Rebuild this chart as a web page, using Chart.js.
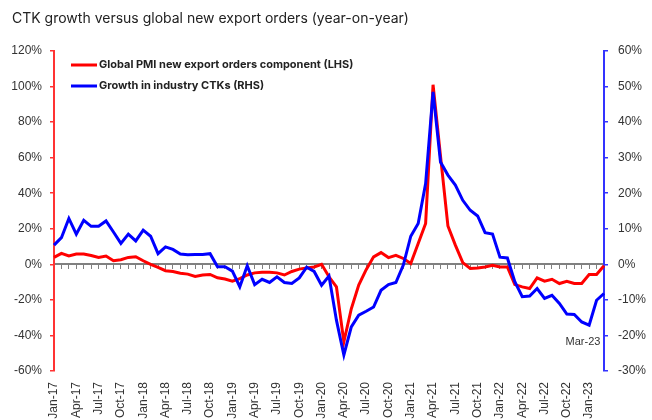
<!DOCTYPE html>
<html>
<head>
<meta charset="utf-8">
<script src="https://cdn.jsdelivr.net/npm/chart.js@4"></script>
<style>
  body { margin: 0; background: #fff; }
  #wrap { position: relative; width: 652px; height: 420px; }
  #title { position: absolute; left: 12px; top: 9px; font: 14px Inter, sans-serif; color: #222; }
</style>
</head>
<body>
<div id="wrap">
  <div id="title">CTK growth versus global new export orders (year-on-year)</div>
  <canvas id="chart" width="652" height="420"></canvas>
</div>
<script>
var months = [
  "Jan-17","Feb-17","Mar-17","Apr-17","May-17","Jun-17","Jul-17","Aug-17","Sep-17","Oct-17","Nov-17","Dec-17",
  "Jan-18","Feb-18","Mar-18","Apr-18","May-18","Jun-18","Jul-18","Aug-18","Sep-18","Oct-18","Nov-18","Dec-18",
  "Jan-19","Feb-19","Mar-19","Apr-19","May-19","Jun-19","Jul-19","Aug-19","Sep-19","Oct-19","Nov-19","Dec-19",
  "Jan-20","Feb-20","Mar-20","Apr-20","May-20","Jun-20","Jul-20","Aug-20","Sep-20","Oct-20","Nov-20","Dec-20",
  "Jan-21","Feb-21","Mar-21","Apr-21","May-21","Jun-21","Jul-21","Aug-21","Sep-21","Oct-21","Nov-21","Dec-21",
  "Jan-22","Feb-22","Mar-22","Apr-22","May-22","Jun-22","Jul-22","Aug-22","Sep-22","Oct-22","Nov-22","Dec-22",
  "Jan-23","Feb-23","Mar-23"
];

// Global PMI new export orders component, % yoy (left axis)
var pmiOrders = [
  3.9, 6.2, 4.7, 5.8, 5.8, 5.0, 3.9, 4.7, 2.0, 2.6, 3.9, 4.3,
  2.0, 0.0, -1.7, -3.6, -4.0, -5.0, -5.5, -6.8, -6.0, -5.7, -7.6, -8.3,
  -9.5, -8.0, -6.0, -4.8, -4.4, -4.4, -4.8, -6.0, -4.0, -2.7, -2.0, -1.5,
  0.0, -7.0, -12.7, -43.6, -25.0, -11.7, -3.0, 4.2, 6.6, 3.8, 5.1, 3.3,
  0.5, 11.7, 23.0, 101.0, 61.0, 21.6, 10.8, 1.0, -2.3, -2.0, -1.5, -0.5,
  -1.5, -1.5, -11.4, -12.7, -13.6, -7.6, -9.5, -8.4, -10.8, -9.5, -10.8, -10.8,
  -5.7, -5.7, -0.8
];

// Growth in industry CTKs, % yoy (right axis)
var ctkGrowth = [
  5.4, 7.5, 12.9, 8.5, 12.4, 10.7, 10.7, 12.2, 9.1, 5.9, 8.5, 6.6,
  9.6, 7.9, 3.0, 4.9, 4.2, 2.9, 2.7, 2.8, 2.8, 3.0, -0.7, -0.7,
  -1.9, -6.3, -0.4, -5.7, -4.2, -5.1, -3.5, -5.1, -5.4, -3.8, -0.8, -2.0,
  -5.9, -3.3, -15.7, -25.5, -17.6, -14.3, -13.2, -12.0, -7.3, -5.7, -5.1, -0.2,
  7.9, 11.5, 22.7, 48.5, 28.8, 25.1, 22.3, 18.0, 15.2, 13.6, 8.9, 8.5,
  2.0, 1.8, -4.9, -9.1, -8.9, -6.8, -9.6, -8.7, -11.0, -14.0, -14.1, -16.2,
  -17.1, -10.1, -8.2
];

var leftTicks = { min: -60, max: 120, step: 20 };
var rightTicks = { min: -30, max: 60, step: 10 };

var tickFont = { family: "Liberation Sans, Arial, sans-serif", size: 12 };

// legend drawn inside the plot, stacked
var innerLegend = {
  id: "innerLegend",
  afterDraw: function(chart) {
    var ctx = chart.ctx;
    var left = chart.chartArea.left + 17;
    var rows = [
      { ds: chart.data.datasets[0], y: 65 },
      { ds: chart.data.datasets[1], y: 86 }
    ];
    ctx.save();
    ctx.font = "bold 11px Inter, sans-serif";
    ctx.textBaseline = "middle";
    rows.forEach(function(r) {
      ctx.strokeStyle = r.ds.borderColor;
      ctx.lineWidth = 3;
      ctx.beginPath();
      ctx.moveTo(left, r.y);
      ctx.lineTo(left + 26, r.y);
      ctx.stroke();
      ctx.fillStyle = "#222";
      ctx.fillText(r.ds.label, left + 28, r.y);
    });
    ctx.restore();
  }
};

// "Mar-23" note under the last CTK point
var lastNote = {
  id: "lastNote",
  afterDatasetsDraw: function(chart) {
    var n = months.length - 1;
    var x = chart.scales.x.getPixelForValue(n) - 21;
    var y = chart.scales.y1.getPixelForValue(ctkGrowth[n]) + 48;
    var ctx = chart.ctx;
    ctx.save();
    ctx.font = "11px Liberation Sans, Arial, sans-serif";
    ctx.fillStyle = "#333";
    ctx.textAlign = "center";
    ctx.textBaseline = "middle";
    ctx.fillText(months[n], x, y);
    ctx.restore();
  }
};

var chart = new Chart(document.getElementById("chart"), {
  type: "line",
  data: {
    labels: months,
    datasets: [{
      label: "Global PMI new export orders component (LHS)",
      data: pmiOrders,
      borderColor: "#ff0000",
      backgroundColor: "#ff0000",
      borderWidth: 3,
      pointRadius: 0,
      tension: 0,
      yAxisID: "y",
      order: 1
    }, {
      label: "Growth in industry CTKs (RHS)",
      data: ctkGrowth,
      borderColor: "#0000ff",
      backgroundColor: "#0000ff",
      borderWidth: 3,
      pointRadius: 0,
      tension: 0,
      yAxisID: "y1",
      order: 0
    }]
  },
  options: {
    responsive: false,
    animation: false,
    layout: { padding: { top: 51, left: 0, right: 0, bottom: 0 } },
    plugins: {
      legend: { display: false },
      tooltip: { enabled: false }
    },
    scales: {
      x: {
        type: "category",
        position: "bottom",
        offset: false,
        border: { display: false },
        grid: { display: false },
        ticks: {
          autoSkip: false,
          minRotation: 90,
          maxRotation: 90,
          padding: 3,
          color: "#333",
          font: tickFont,
          callback: function(v, i) { return i % 3 === 0 ? months[i] : null; }
        },
        afterFit: function(s) { s.height = 49; }
      },
      x2: {
        type: "category",
        position: { y: 0 },
        offset: false,
        border: { display: true, color: "#808080", width: 2 },
        grid: { display: true, drawOnChartArea: false, offset: false, color: "#808080", tickLength: 4, lineWidth: 1 },
        ticks: { display: false, autoSkip: false }
      },
      y: {
        position: "left",
        min: leftTicks.min,
        max: leftTicks.max,
        border: { color: "#ff3333", width: 2 },
        grid: { drawOnChartArea: false, color: "#ff3333", tickLength: 4, lineWidth: 1.5 },
        ticks: {
          stepSize: leftTicks.step,
          padding: 8,
          color: "#333",
          font: tickFont,
          callback: function(v) { return v + "%"; }
        },
        afterFit: function(s) { s.width = 54; }
      },
      y1: {
        position: "right",
        min: rightTicks.min,
        max: rightTicks.max,
        border: { color: "#3333ff", width: 2 },
        grid: { drawOnChartArea: false, color: "#3333ff", tickLength: 4, lineWidth: 1.5 },
        ticks: {
          stepSize: rightTicks.step,
          padding: 10,
          color: "#333",
          font: tickFont,
          callback: function(v) { return v + "%"; }
        },
        afterFit: function(s) { s.width = 48; }
      }
    }
  },
  plugins: [innerLegend, lastNote]
});
</script>
</body>
</html>
